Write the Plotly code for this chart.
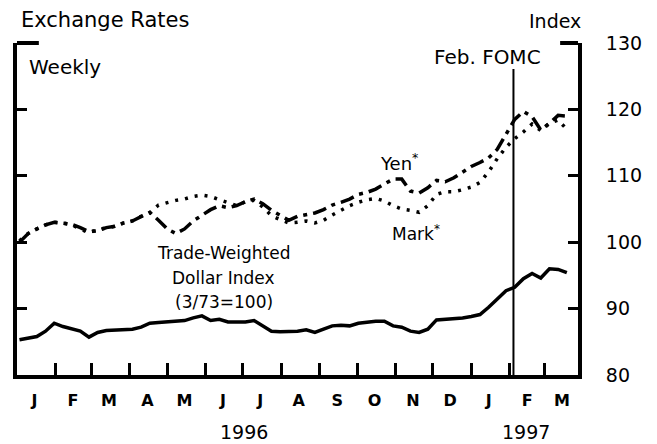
import plotly.graph_objects as go
import pandas as pd

# Weekly observations, Jan 1996 - Mar 1997
weeks = pd.date_range("1996-01-03", periods=64, freq="7D")

dollar = [85.3, 85.6, 85.8, 86.6, 87.8, 87.3, 86.9, 86.6, 85.7, 86.4,
          86.7, 86.8, 86.8, 86.9, 87.2, 87.8, 87.9, 88.0, 88.1, 88.2,
          88.6, 88.9, 88.2, 88.4, 88.0, 88.0, 88.0, 88.2, 87.4, 86.6,
          86.5, 86.5, 86.6, 86.8, 86.4, 86.9, 87.4, 87.5, 87.4, 87.8,
          88.0, 88.1, 88.1, 87.4, 87.2, 86.6, 86.4, 86.9, 88.3, 88.4,
          88.4, 88.6, 88.8, 89.1, 90.2, 91.5, 92.7, 93.2, 94.5, 95.3,
          94.6, 96.0, 95.9, 95.4]

yen = [100.0, 101.3, 102.0, 102.6, 103.0, 102.9, 102.7, 102.2, 101.6, 101.7,
       102.2, 102.4, 102.9, 103.2, 103.8, 104.5, 103.3, 102.0, 101.3, 102.0,
       103.2, 104.1, 104.9, 105.5, 105.2, 105.5, 106.1, 106.5, 105.8, 104.8,
       104.0, 103.3, 103.9, 104.2, 104.4, 104.9, 105.6, 106.0, 106.5, 107.2,
       107.5, 108.0, 108.8, 109.5, 109.5, 107.7, 107.4, 108.2, 109.3, 109.1,
       109.7, 110.6, 111.4, 112.0, 112.7, 114.0, 116.2, 118.5, 119.7, 118.9,
       116.9, 117.9, 119.1, 119.0]

mark = [100.2, 101.3, 102.0, 102.6, 103.0, 102.9, 102.6, 102.0, 101.4, 101.9,
        102.2, 102.4, 102.9, 103.2, 103.9, 104.4, 105.6, 106.0, 106.3, 106.5,
        106.9, 107.1, 106.9, 106.4, 105.9, 105.5, 106.1, 106.3, 105.3, 104.0,
        103.4, 102.9, 103.0, 103.2, 102.9, 103.3, 104.1, 104.8, 105.5, 106.0,
        106.4, 106.6, 106.2, 105.5, 105.0, 104.8, 104.5, 105.5, 107.2, 107.6,
        107.6, 107.9, 108.3, 109.0, 110.6, 112.6, 114.3, 115.6, 116.6, 117.8,
        116.8, 117.9, 118.4, 117.0]

month_starts = pd.date_range("1996-01-01", "1997-03-01", freq="MS")
month_tick_dates = list(month_starts[1:])
month_label_dates = [d + pd.Timedelta(days=14) for d in month_starts]
month_labels = ["J", "F", "M", "A", "M", "J", "J", "A", "S", "O", "N", "D", "J", "F", "M"]
y_ticks = [80, 90, 100, 110, 120, 130]
fomc_date = "1997-02-04"

FONT = "DejaVu Sans"
OFF = 8  # default page body margin
W, H = 657 - OFF, 444 - OFF
L, R, T, B = 13 - OFF, 79, 43 - OFF, 69
PW, PH = W - L - R, H - T - B


def px(x):
    return (x - OFF - L) / PW


def py(y):
    return (H - B - (y - OFF)) / PH


fig = go.Figure()
fig.add_trace(go.Scatter(x=weeks, y=dollar, mode="lines", name="Trade-Weighted Dollar",
                         line=dict(color="black", width=3.5)))
fig.add_trace(go.Scatter(x=weeks, y=mark, mode="lines", name="Mark",
                         line=dict(color="black", width=3.5, dash="3px,7px")))
fig.add_trace(go.Scatter(x=weeks, y=yen, mode="lines", name="Yen",
                         line=dict(color="black", width=3.5, dash="14px,6px,4px,6px")))

fig.update_layout(
    width=W, height=H,
    margin=dict(l=L, r=R, t=T, b=B),
    paper_bgcolor="white", plot_bgcolor="white",
    showlegend=False,
    font=dict(family=FONT, color="black", size=18),
    xaxis=dict(
        type="date",
        range=["1996-01-01", "1997-03-28"],
        tickmode="array", tickvals=month_label_dates, ticktext=month_labels,
        ticks="", showgrid=False, zeroline=False,
        showline=True, linecolor="black", linewidth=4,
        tickfont=dict(family=FONT, size=16, color="black", weight="bold"),
        ticklabelstandoff=8,
        minor=dict(tickmode="array", tickvals=month_tick_dates, ticks="inside",
                   ticklen=12, tickwidth=3, tickcolor="black", showgrid=False),
    ),
    yaxis=dict(
        side="right", range=[80, 130],
        tickmode="array", tickvals=y_ticks, ticktext=[str(v) for v in y_ticks],
        ticks="inside", ticklen=10, tickwidth=3, tickcolor="black",
        showline=True, linecolor="black", linewidth=4, mirror="ticks",
        showgrid=False, zeroline=False,
        tickfont=dict(family=FONT, size=19, color="black"),
        ticklabelstandoff=20,
    ),
)

# top bracket ends and FOMC marker
fig.add_shape(type="line", xref="paper", yref="paper", x0=0, x1=px(35), y0=1, y1=1,
              line=dict(color="black", width=4))
fig.add_shape(type="line", xref="paper", yref="paper", x0=px(560), x1=1, y0=1, y1=1,
              line=dict(color="black", width=4))
fig.add_shape(type="line", xref="x", yref="y", x0=fomc_date, x1=fomc_date, y0=80, y1=126.1,
              line=dict(color="black", width=2))

ann = [
    ("Exchange Rates", 15, 20, "left", 21),
    ("Index", 555, 21, "center", 19),
    ("Weekly", 23, 67, "left", 20),
    ("Feb. FOMC", 487, 57, "center", 20),
    ("Yen<sup>*</sup>", 398, 162, "center", 18),
    ("Mark<sup>*</sup>", 415, 233, "center", 17),
    ("Trade-Weighted", 221, 253, "center", 17),
    ("Dollar Index", 221, 278, "center", 17),
    ("(3/73=100)", 221, 302, "center", 17),
    ("1996", 242, 432, "center", 19),
    ("1997", 526, 432, "center", 19),
]
for text, x, y, xa, size in ann:
    fig.add_annotation(text=text, xref="paper", yref="paper", x=px(x), y=py(y),
                       xanchor=xa, yanchor="middle", showarrow=False,
                       font=dict(family=FONT, size=size, color="black"))

fig.write_html("out.html")
